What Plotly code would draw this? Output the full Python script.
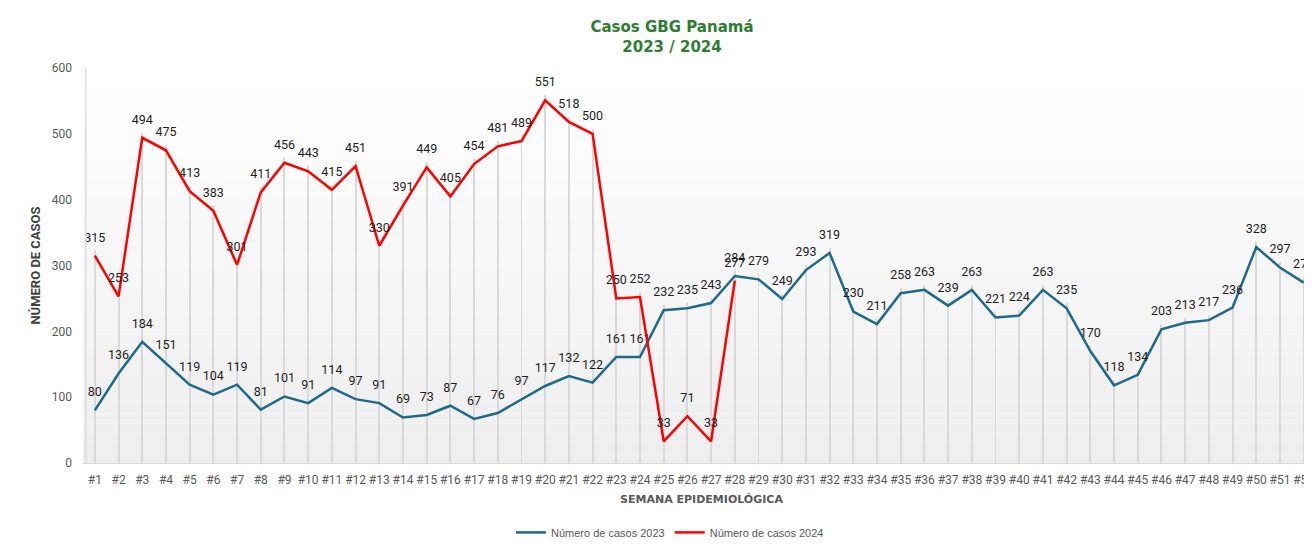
import plotly.graph_objects as go

weeks = [f"#{i}" for i in range(1, 53)]
casos_2023 = [80, 136, 184, 151, 119, 104, 119, 81, 101, 91, 114, 97, 91, 69, 73, 87, 67, 76, 97, 117,
              132, 122, 161, 161, 232, 235, 243, 284, 279, 249, 293, 319, 230, 211, 258, 263, 239, 263,
              221, 224, 263, 235, 170, 118, 134, 203, 213, 217, 236, 328, 297, 274]
casos_2024 = [315, 253, 494, 475, 413, 383, 301, 411, 456, 443, 415, 451, 330, 391, 449, 405, 454, 481,
              489, 551, 518, 500, 250, 252, 33, 71, 33, 277]
y_ticks = [0, 100, 200, 300, 400, 500, 600]

NARROW = "Liberation Sans Narrow, Arial Narrow, Roboto, sans-serif"
BLUE = "#1f6a8a"
RED = "#ff0000"

W, H = 1312, 543  # page shows the figure offset by the 8px body margin; right edge is cropped

fig = go.Figure()

# drop lines from each point down to the axis (thin bars)
drop = []
for i in range(len(weeks)):
    vals = [casos_2023[i]] + ([casos_2024[i]] if i < len(casos_2024) else [])
    drop.append(max(vals) + 8)
fig.add_trace(go.Bar(x=weeks, y=drop, width=0.04, marker=dict(color="#d9d9d9", line=dict(width=0)),
                     hoverinfo="skip", showlegend=False))

fig.add_trace(go.Scatter(
    x=weeks, y=casos_2023, name="Número de casos 2023", mode="lines+markers+text",
    line=dict(color=BLUE, width=2.5), marker=dict(size=16, color="rgba(0,0,0,0)"),
    text=[str(v) for v in casos_2023], textposition="top center",
    textfont=dict(family=NARROW, size=12.5, color="#1e1e1e"), cliponaxis=False))
fig.add_trace(go.Scatter(
    x=weeks[:len(casos_2024)], y=casos_2024, name="Número de casos 2024", mode="lines+markers+text",
    line=dict(color=RED, width=2.5), marker=dict(size=16, color="rgba(0,0,0,0)"),
    text=[str(v) for v in casos_2024], textposition="top center",
    textfont=dict(family=NARROW, size=12.5, color="#1e1e1e"), cliponaxis=False))

# gradient background of the plot area
shapes = []
n = 40
for k in range(n):
    t = k / (n - 1)
    c = int(round(238 + (255 - 238) * t))
    shapes.append(dict(type="rect", xref="x domain", yref="y domain", x0=0, x1=1,
                       y0=k / n, y1=(k + 1) / n, fillcolor=f"rgb({c},{c},{c})",
                       line=dict(width=0), layer="below"))
# outer frame (left edge)
shapes.append(dict(type="line", xref="paper", yref="paper", x0=3 / W, x1=3 / W, y0=0,
                   y1=1, line=dict(color="#dddddd", width=1.5)))

fig.update_layout(
    width=W, height=H,
    margin=dict(l=75, r=0, t=60, b=88),
    paper_bgcolor="white", plot_bgcolor="white",
    bargap=0,
    title=dict(text="<b>Casos GBG Panamá<br>2023 / 2024</b>", x=(672 - 8) / W, xanchor="center",
               y=1 - 24 / H, yanchor="top",
               font=dict(family="DejaVu Sans, sans-serif", size=15, color="#2e7d32")),
    shapes=shapes,
    xaxis=dict(categoryorder="array", categoryarray=weeks, range=[-0.5, 51.69],
               showgrid=False, showline=True, linecolor="#d9d9d9", linewidth=1,
               ticks="", ticklabelstandoff=6, automargin=False,
               tickfont=dict(family=NARROW, size=12, color="#595959"),
               title=dict(text="<b>SEMANA EPIDEMIOLÓGICA</b>", standoff=8,
                          font=dict(family="DejaVu Sans, sans-serif", size=11, color="#595959"))),
    yaxis=dict(range=[0, 600], tickvals=y_ticks, showgrid=False, zeroline=False,
               showline=False, ticks="", ticklabelstandoff=10, automargin=False,
               tickfont=dict(family=NARROW, size=12, color="#595959"),
               title=dict(text="<b>NÚMERO DE CASOS</b>", standoff=8,
                          font=dict(family=NARROW, size=13, color="#404040"))),
    legend=dict(orientation="h", x=0.4745, xanchor="center", y=-0.139, yanchor="top",
                font=dict(family="Liberation Sans, Arial, sans-serif", size=11, color="#595959"),
                itemwidth=30),
)

fig.write_html("out.html")
